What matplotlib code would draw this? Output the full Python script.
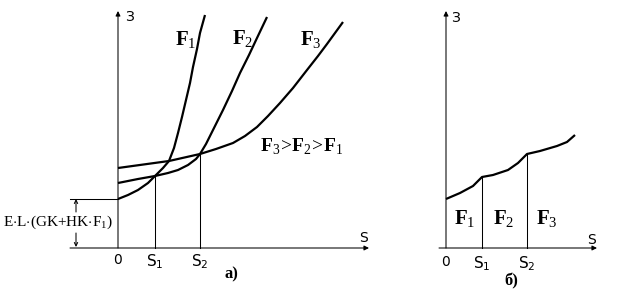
import matplotlib.pyplot as plt

plt.rcParams['mathtext.fontset'] = 'custom'
plt.rcParams['mathtext.rm'] = 'Liberation Serif'
plt.rcParams['mathtext.bf'] = 'Liberation Serif:bold'
plt.rcParams['mathtext.sf'] = 'DejaVu Sans'

# values: S and Z measured from the origin of each panel
s_points = [37, 82]
s_points_b = [36, 81]

f1_s = [0, 10, 20, 30, 37, 45, 51, 56, 60, 64, 68, 72, 75, 79, 82, 87]
f1_z = [49, 53, 58, 65, 72, 80, 87, 100, 115, 131, 148, 165, 181, 199, 215, 233]

f2_s = [0, 20, 37, 50, 60, 70, 78, 82, 88, 95, 105, 114, 122, 131, 139, 149]
f2_z = [65, 69, 72, 75, 78, 83, 89, 94, 104, 118, 138, 157, 175, 193, 210, 231]

f3_s = [0, 51, 82, 98, 115, 127, 139, 150, 162, 175, 189, 200, 209, 217, 225]
f3_z = [80, 87, 94, 99, 105, 112, 121, 132, 145, 160, 178, 192, 204, 215, 226]

# right panel: lower envelope
env_s = [0, 14, 27, 36, 47, 62, 72, 81, 94, 111, 121, 129]
env_z = [49, 55, 62, 71, 73, 78, 85, 94, 97, 102, 106, 113]

fig = plt.figure(figsize=(6.24, 2.94), dpi=100)
ax1 = fig.add_axes([0, 0, 1, 1])
ax2 = fig.add_axes([0, 0, 1, 1])
ax2.patch.set_alpha(0)
ax1.set_xlim(-118, 506)
ax1.set_ylim(-46, 248)
ax2.set_xlim(-446, 178)
ax2.set_ylim(-46, 248)
ax1.axis('off')
ax2.axis('off')

thin = 0.75
thick = 1.6
arr = dict(arrowstyle='-|>', lw=thin, color='k', mutation_scale=7, shrinkA=0, shrinkB=0)
small = dict(arrowstyle='->', lw=thin, color='k', mutation_scale=6, shrinkA=0, shrinkB=0)

# ---- panel a)
ax1.annotate('', xy=(0, 237), xytext=(0, 0), arrowprops=arr)
ax1.annotate('', xy=(251, 0), xytext=(-48, 0), arrowprops=arr)
for xs, zs in [(f1_s, f1_z), (f2_s, f2_z), (f3_s, f3_z)]:
    ax1.plot(xs, zs, color='k', lw=thick, solid_joinstyle='round', solid_capstyle='butt')
ax1.plot([s_points[0], s_points[0]], [0, f1_z[4]], color='k', lw=thin)
ax1.plot([s_points[1], s_points[1]], [0, f2_z[7]], color='k', lw=thin)
ax1.plot([-48, 0], [f1_z[0], f1_z[0]], color='k', lw=thin)
ax1.annotate('', xy=(-42, f1_z[0]), xytext=(-42, 36), arrowprops=small)
ax1.annotate('', xy=(-42, 1), xytext=(-42, 15), arrowprops=small)
ax1.text(-60, 26, r'$\mathrm{E{\cdot}L{\cdot}(GK{+}HK{\cdot}F_1)}$', fontsize=11,
         ha='center', va='center')

ax1.text(68, 208, r'$\mathbf{F}_\mathrm{1}$', fontsize=15, ha='center', va='center')
ax1.text(125, 209, r'$\mathbf{F}_\mathrm{2}$', fontsize=15, ha='center', va='center')
ax1.text(193, 208, r'$\mathbf{F}_\mathrm{3}$', fontsize=15, ha='center', va='center')
ax1.text(184, 101, r'$\mathbf{F}_\mathrm{3}\!>\!\mathbf{F}_\mathrm{2}\!>\!\mathbf{F}_\mathrm{1}$',
         fontsize=14, ha='center', va='center')

ax1.text(11, 231, 'З', fontsize=10, ha='center', va='center', family='DejaVu Sans')
ax1.text(245, 10, 'S', fontsize=10, ha='center', va='center', family='DejaVu Sans')
ax1.text(0, -12, '0', fontsize=10, ha='center', va='center', family='DejaVu Sans')
ax1.text(s_points[0], -14, r'$\mathsf{S}_\mathsf{1}$', fontsize=11, ha='center', va='center')
ax1.text(s_points[1], -14, r'$\mathsf{S}_\mathsf{2}$', fontsize=11, ha='center', va='center')
ax1.text(113, -26, 'а)', fontsize=12, fontweight='bold', ha='center', va='center',
         family='Liberation Serif')

# ---- panel б)
ax2.annotate('', xy=(0, 237), xytext=(0, 0), arrowprops=arr)
ax2.annotate('', xy=(151, 0), xytext=(-7, 0), arrowprops=arr)
ax2.plot(env_s, env_z, color='k', lw=thick, solid_joinstyle='round', solid_capstyle='butt')
ax2.plot([s_points_b[0], s_points_b[0]], [0, env_z[3]], color='k', lw=thin)
ax2.plot([s_points_b[1], s_points_b[1]], [0, env_z[7]], color='k', lw=thin)

ax2.text(19, 29, r'$\mathbf{F}_\mathrm{1}$', fontsize=15, ha='center', va='center')
ax2.text(58, 29, r'$\mathbf{F}_\mathrm{2}$', fontsize=15, ha='center', va='center')
ax2.text(101, 29, r'$\mathbf{F}_\mathrm{3}$', fontsize=15, ha='center', va='center')

ax2.text(9, 230, 'З', fontsize=10, ha='center', va='center', family='DejaVu Sans')
ax2.text(145, 8, 'S', fontsize=10, ha='center', va='center', family='DejaVu Sans')
ax2.text(0, -14, '0', fontsize=10, ha='center', va='center', family='DejaVu Sans')
ax2.text(s_points_b[0], -16, r'$\mathsf{S}_\mathsf{1}$', fontsize=11, ha='center', va='center')
ax2.text(s_points_b[1], -16, r'$\mathsf{S}_\mathsf{2}$', fontsize=11, ha='center', va='center')
ax2.text(65, -33, 'б)', fontsize=12, fontweight='bold', ha='center', va='center',
         family='Liberation Serif')

fig.savefig('out.png', dpi=100)
